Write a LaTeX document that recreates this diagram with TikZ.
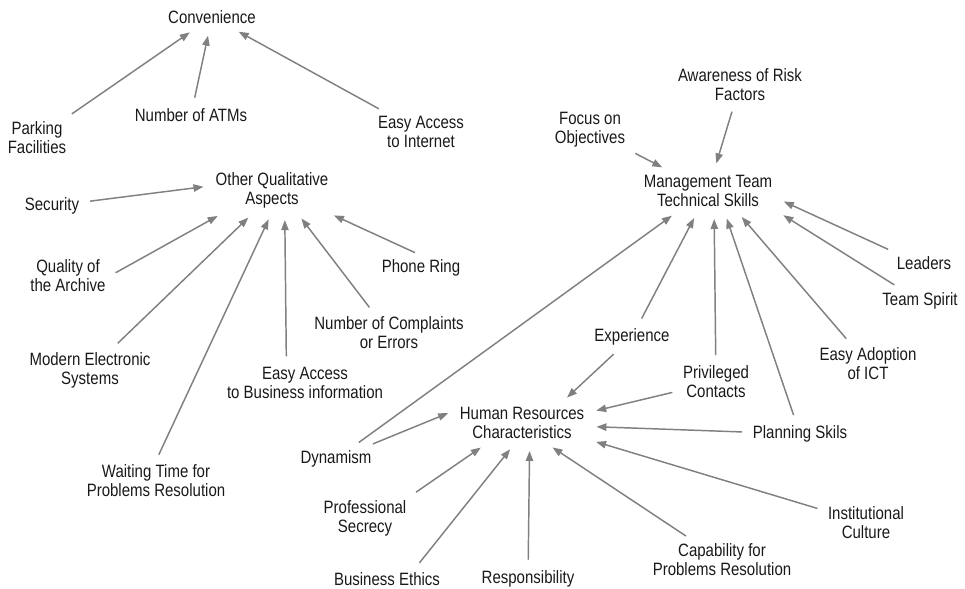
\documentclass[tikz,border=0pt]{standalone}
\usepackage{fontspec}
\setmainfont{Liberation Sans}[FakeStretch=0.84]
\usetikzlibrary{arrows.meta}
\definecolor{arrgray}{RGB}{128,128,128}
\definecolor{txtblack}{RGB}{25,25,25}
\begin{document}
\begin{tikzpicture}[
    x=0.75pt, y=-0.75pt,
    factor/.style={align=center, inner sep=3pt, text=txtblack,
        font=\fontsize{13.4}{14.2}\selectfont},
    link/.style={draw=arrgray, line width=1.1pt,
        -{Triangle[length=7.5pt,width=5.5pt]},
        shorten <=5pt, shorten >=6pt}
    ]
\useasboundingbox (0,0) rectangle (965,589);

\node[factor] (conv) at (212,17) {Convenience};
\node[factor] (park) at (37,138) {Parking\\Facilities};
\node[factor] (atm) at (191,115) {Number of ATMs};
\node[factor] (eai) at (421,132) {Easy Access\\to Internet};

\node[factor] (oqa) at (272,190) {Other Qualitative\\Aspects};
\node[factor] (sec) at (52,206) {Security};
\node[factor] (qa) at (68,276) {Quality of\\the Archive};
\node[factor] (mes) at (90,370) {Modern Electronic\\Systems};
\node[factor] (wt) at (156,481) {Waiting Time for\\Problems Resolution};
\node[factor] (eab) at (305,383) {Easy Access\\to Business information};
\node[factor] (nce) at (389,333) {Number of Complaints\\or Errors};
\node[factor] (pr) at (421,268) {Phone Ring};

\node[factor] (mt) at (708,191) {Management Team\\Technical Skills};
\node[factor] (arf) at (740,85) {Awareness of Risk\\Factors};
\node[factor] (foo) at (590,130) {Focus on\\Objectives};
\node[factor] (lead) at (924,263) {Leaders};
\node[factor] (ts) at (920,301) {Team Spirit};
\node[factor] (ea) at (868,364) {Easy Adoption\\of ICT};
\node[factor] (exp) at (632,337) {Experience};
\node[factor] (pc) at (716,382) {Privileged\\Contacts};
\node[factor] (plan) at (800,434) {Planning Skils};

\node[factor] (hr) at (522,423) {Human Resources\\Characteristics};
\node[factor] (dyn) at (336,459) {Dynamism};
\node[factor] (psec) at (365,518) {Professional\\Secrecy};
\node[factor] (be) at (387,579) {Business Ethics};
\node[factor] (resp) at (528,579) {Responsibility};
\node[factor] (cap) at (722,560) {Capability for\\Problems Resolution};
\node[factor] (ic) at (866,523) {Institutional\\Culture};

\draw[link] (park) -- (conv);
\draw[link] (atm) -- (conv);
\draw[link] (eai) -- (conv);

\draw[link] (sec) -- (oqa.176);
\draw[link] (qa.east) -- (oqa.-155);
\draw[link] (mes) -- (oqa.-129);
\draw[link] (wt.north) -- (oqa.south);
\draw[link] (eab.133) -- (oqa.-60);
\draw[link] (nce) -- (oqa.-42);
\draw[link] (pr.north) -- (oqa.-22);

\draw[link] (foo) -- (mt);
\draw[link] (arf) -- (mt);
\draw[link] (lead.160) -- (mt.-6);
\draw[link] (ts) -- (mt.south east);
\draw[link] (ea) -- (mt.-35);
\draw[link] (plan) -- (mt.-51);
\draw[link] (pc) -- (mt.-73);
\draw[link] (exp) -- (mt.-117);
\draw[link] (dyn) -- (mt.-146);

\draw[link] (exp) -- (hr.27);
\draw[link] (pc) -- (hr.9);
\draw[link] (plan) -- (hr.-3);
\draw[link] (ic) -- (hr.-14);
\draw[link] (cap) -- (hr.-40);
\draw[link] (resp) -- (hr.-69);
\draw[link] (be.21) -- (hr.-109);
\draw[link] (psec.north east) -- (hr.-150);
\draw[link] (dyn) -- (hr.169);
\end{tikzpicture}
\end{document}
